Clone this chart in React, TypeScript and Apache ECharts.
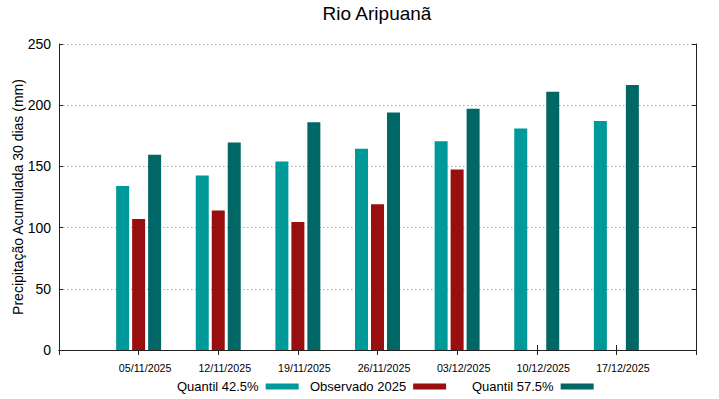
import React, { useEffect, useRef } from "react";
import * as echarts from "echarts";

const categories = ["", "05/11/2025", "12/11/2025", "19/11/2025", "26/11/2025", "03/12/2025", "10/12/2025", "17/12/2025", ""];
const quantil425 = [null, 134, 142.5, 154, 164.5, 170.5, 181, 187, null];
const observado2025 = [null, 107, 114, 104.5, 119, 147.5, null, null, null];
const quantil575 = [null, 159.5, 169.5, 186, 194, 197, 211, 216.5, null];
const seriesNames = ["Quantil 42.5%", "Observado 2025", "Quantil 57.5%"];
const seriesColors = ["#009999", "#990f0f", "#006666"];
const yTitle = "Precipitação Acumulada 30 dias (mm)";
const chartTitle = "Rio Aripuanã";

const FONT = "'Liberation Sans', Arial, sans-serif";
const AX = "#222";

export default function App() {
  const ref = useRef<HTMLDivElement>(null);
  useEffect(() => {
    if (!ref.current) return;
    const chart = echarts.init(ref.current, undefined, { renderer: "svg" });
    const datas = [quantil425, observado2025, quantil575];
    const legendLefts = [177, 310, 472];
    const option: any = {
      animation: false,
      backgroundColor: "#ffffff",
      textStyle: { fontFamily: FONT },
      title: {
        text: chartTitle,
        left: 377,
        textAlign: "center",
        top: 4,
        padding: 0,
        textStyle: { fontFamily: FONT, fontSize: 19, fontWeight: "normal", color: "#000" },
      },
      legend: seriesNames.map((n, i) => ({
        data: [n],
        left: legendLefts[i],
        top: 380,
        padding: 0,
        align: "right",
        itemWidth: 33,
        itemHeight: 6,
        icon: "rect",
        textStyle: { fontFamily: FONT, fontSize: 13, color: "#000", padding: [0, 2, 0, 0] },
      })),
      grid: { left: 59, right: 23, top: 44, bottom: 49, show: false, containLabel: false, outerBoundsMode: "none" },
      xAxis: [
        {
          type: "category",
          data: categories,
          boundaryGap: false,
          position: "bottom",
          axisLine: { show: true, lineStyle: { color: AX, width: 1 } },
          axisTick: { show: true, inside: true, length: 5, interval: 0, lineStyle: { color: AX } },
          axisLabel: {
            show: true,
            interval: 0,
            fontFamily: FONT,
            fontSize: 10.7,
            color: "#000",
            margin: 12,
            padding: [0, 0, 0, 13],
          },
          splitLine: { show: false },
        },
        {
          type: "category",
          data: categories,
          boundaryGap: false,
          position: "top",
          axisLine: { show: true, lineStyle: { color: AX, width: 1 } },
          axisTick: { show: true, inside: true, length: 5, interval: 0, lineStyle: { color: AX } },
          axisLabel: { show: false },
          splitLine: { show: false },
        },
      ],
      yAxis: [
        {
          type: "value",
          min: 0,
          max: 250,
          interval: 50,
          position: "left",
          name: yTitle,
          nameLocation: "middle",
          nameGap: 34,
          nameMoveOverlap: false,
          nameTextStyle: { fontFamily: FONT, fontSize: 14, color: "#000" },
          axisLine: { show: true, lineStyle: { color: AX, width: 1 } },
          axisTick: { show: true, inside: true, length: 4, lineStyle: { color: AX } },
          axisLabel: { fontFamily: FONT, fontSize: 14, color: "#000", margin: 8 },
          splitLine: { show: true, lineStyle: { color: "#aaa", type: [1.5, 2.5], width: 1 } },
        },
        {
          type: "value",
          min: 0,
          max: 250,
          interval: 50,
          position: "right",
          axisLine: { show: true, lineStyle: { color: AX, width: 1 } },
          axisTick: { show: true, inside: true, length: 4, lineStyle: { color: AX } },
          axisLabel: { show: false },
          splitLine: { show: false },
        },
      ],
      series: seriesNames.map((n, i) => ({
        name: n,
        type: "bar",
        data: datas[i],
        xAxisIndex: 0,
        yAxisIndex: 0,
        barWidth: 13,
        barGap: "23%",
        itemStyle: { color: seriesColors[i] },
      })),
    };
    chart.setOption(option);
    return () => chart.dispose();
  }, []);
  return (
    <div
      ref={ref}
      style={{ position: "fixed", left: 0, top: 0, width: 719, height: 399, background: "#fff" }}
    />
  );
}
